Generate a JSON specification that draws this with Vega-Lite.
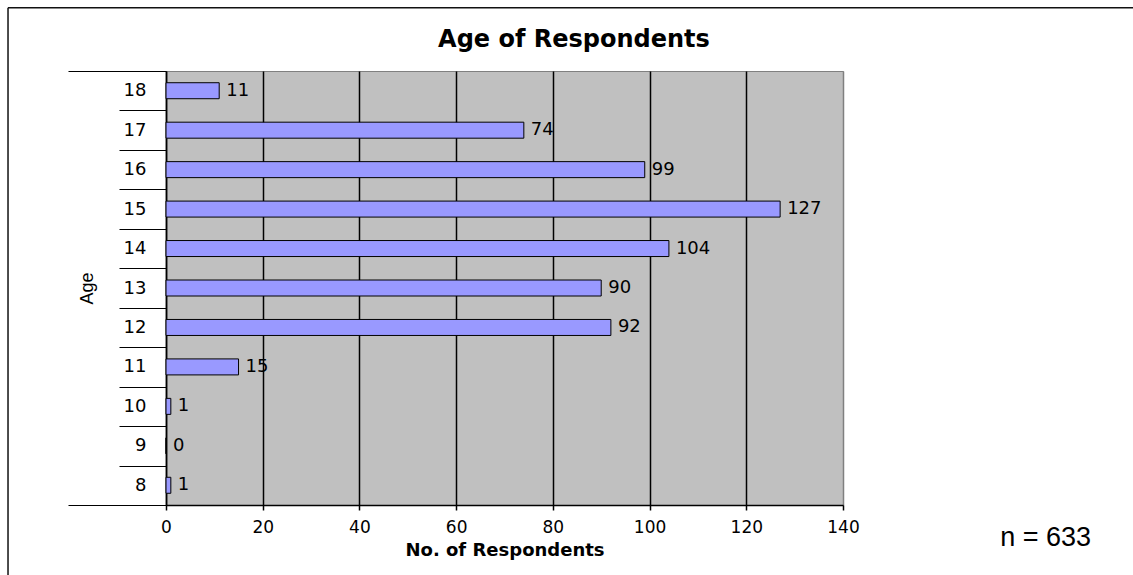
{
  "$schema": "https://vega.github.io/schema/vega-lite/v6.json",
  "width": 677,
  "height": 434,
  "autosize": {"type": "none"},
  "padding": {"left": 166, "top": 71, "right": 290, "bottom": 70},
  "background": "white",
  "config": {"view": {"fill": "#C0C0C0", "stroke": "#808080", "strokeWidth": 1}},
  "data": {
    "values": [
      {"age": 18, "count": 11},
      {"age": 17, "count": 74},
      {"age": 16, "count": 99},
      {"age": 15, "count": 127},
      {"age": 14, "count": 104},
      {"age": 13, "count": 90},
      {"age": 12, "count": 92},
      {"age": 11, "count": 15},
      {"age": 10, "count": 1},
      {"age": 9, "count": 0},
      {"age": 8, "count": 1}
    ]
  },
  "resolve": {"axis": {"y": "independent", "x": "independent"}},
  "layer": [
    {
      "mark": {"type": "bar", "orient": "horizontal", "size": 16, "fill": "#9999FF", "stroke": "black", "strokeWidth": 1},
      "encoding": {
        "y": {
          "field": "age", "type": "quantitative",
          "scale": {"domain": [7.5, 18.5], "nice": false, "zero": false, "padding": 0},
          "axis": {
            "orient": "left", "values": [8, 9, 10, 11, 12, 13, 14, 15, 16, 17, 18],
            "ticks": false, "labelPadding": 20, "domainColor": "black", "domainWidth": 1.5,
            "labelFont": "DejaVu Sans", "labelFontSize": 18, "labelColor": "black", "grid": false,
            "title": "Age", "titleFont": "Liberation Sans",
            "titleFontSize": 18, "titleFontWeight": "normal", "titleColor": "black",
            "titleX": -79, "titleY": 217, "titleAngle": 270, "titleAlign": "center", "titleBaseline": "middle"
          }
        },
        "x": {
          "field": "count", "type": "quantitative",
          "scale": {"domain": [0, 140], "nice": false, "zero": true, "padding": 0},
          "axis": {
            "orient": "bottom",
            "values": [0, 20, 40, 60, 80, 100, 120, 140],
            "grid": true,
            "gridColor": {"condition": {"test": "datum.value === 140", "value": "#808080"}, "value": "black"},
            "gridOpacity": 1, "gridWidth": 1.5,
            "domainColor": "black", "domainWidth": 1.5, "tickColor": "black", "tickWidth": 1.5, "tickSize": 5,
            "labelFont": "DejaVu Sans", "labelFontSize": 17, "labelColor": "black", "labelPadding": 9,
            "labelFlush": false, "labelOverlap": false,
            "title": "No. of Respondents", "titleFont": "DejaVu Sans", "titleFontSize": 18,
            "titleFontWeight": "bold", "titleColor": "black", "titlePadding": 6
          }
        }
      }
    },
    {
      "mark": {"type": "text", "align": "left", "baseline": "middle", "dx": 7, "font": "DejaVu Sans", "fontSize": 18, "color": "black"},
      "encoding": {
        "y": {
          "field": "age", "type": "quantitative",
          "axis": {
            "orient": "left", "values": [8.5, 9.5, 10.5, 11.5, 12.5, 13.5, 14.5, 15.5, 16.5, 17.5],
            "labels": false, "ticks": true, "tickSize": 47, "tickColor": "black", "tickWidth": 1.2,
            "domain": false, "grid": false, "title": null
          }
        },
        "x": {"field": "count", "type": "quantitative", "axis": null},
        "text": {"field": "count", "type": "quantitative"}
      }
    },
    {
      "data": {"values": [{"label": "n = 633"}]},
      "mark": {"type": "text", "align": "center", "baseline": "middle", "font": "Liberation Sans", "fontSize": 27, "color": "black"},
      "encoding": {
        "x": {"datum": 181.9, "type": "quantitative", "axis": null},
        "y": {
          "datum": 6.66, "type": "quantitative",
          "axis": {
            "orient": "left", "values": [7.5, 18.5], "labels": false, "ticks": true,
            "tickSize": 98, "tickColor": "black", "tickWidth": 1.2, "domain": false, "grid": false, "title": null
          }
        },
        "text": {"field": "label", "type": "nominal"}
      }
    },
    {
      "data": {"values": [{"label": "Age of Respondents"}]},
      "mark": {"type": "text", "align": "center", "baseline": "middle", "font": "DejaVu Sans", "fontWeight": "bold", "fontSize": 24, "color": "black"},
      "encoding": {
        "x": {"datum": 84.37, "type": "quantitative", "axis": null},
        "y": {"datum": 19.29, "type": "quantitative", "axis": null},
        "text": {"field": "label", "type": "nominal"}
      }
    },
    {
      "data": {"values": [{"label": "frame"}]},
      "mark": {"type": "rule", "color": "#111111", "strokeWidth": 1.5},
      "encoding": {
        "x": {"datum": -32.67, "type": "quantitative", "axis": null},
        "y": {"datum": 20.1, "type": "quantitative", "axis": null},
        "y2": {"datum": 4}
      }
    },
    {
      "data": {"values": [{"label": "frame"}]},
      "mark": {"type": "rule", "color": "#111111", "strokeWidth": 1.5},
      "encoding": {
        "y": {"datum": 20.1, "type": "quantitative", "axis": null},
        "x": {"datum": -32.67, "type": "quantitative", "axis": null},
        "x2": {"datum": 230}
      }
    }
  ]
}
